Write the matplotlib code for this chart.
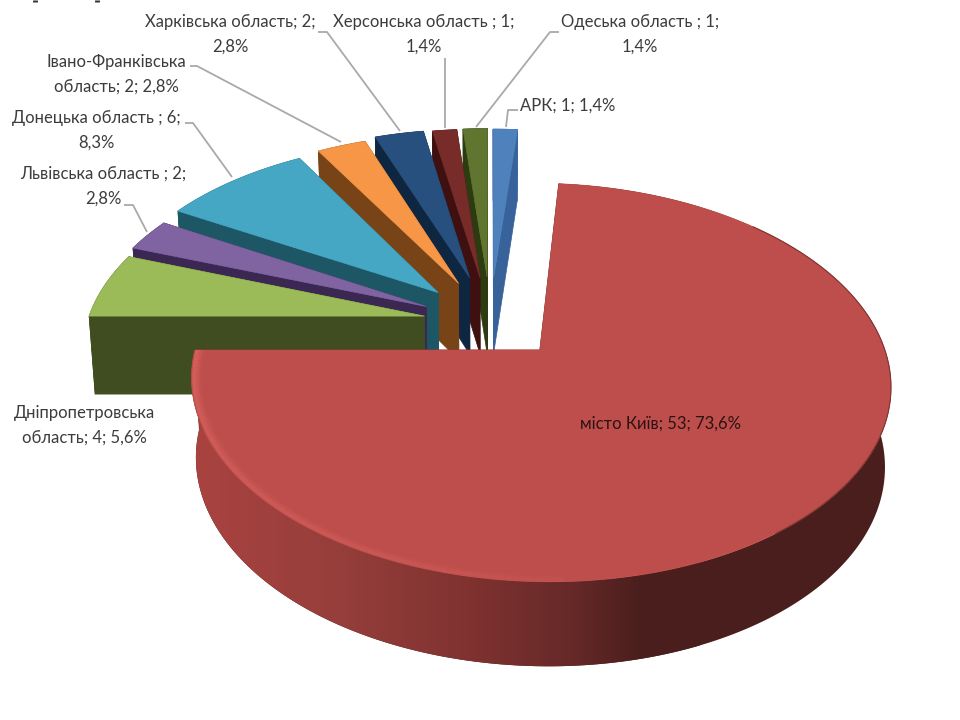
import matplotlib
matplotlib.use("Agg")
import matplotlib.pyplot as plt
import numpy as np
from matplotlib.collections import LineCollection
from matplotlib.colors import LinearSegmentedColormap, to_rgba
from matplotlib.patches import Polygon

# data, in the order of the source table
regions = ["АРК", "місто Київ", "Дніпропетровська область", "Львівська область",
           "Донецька область", "Івано-Франківська область", "Харківська область",
           "Херсонська область", "Одеська область"]
counts = [1, 53, 4, 2, 6, 2, 2, 1, 1]
label_texts = ["АРК; 1; 1,4%", "місто Київ; 53; 73,6%",
               "Дніпропетровська\nобласть; 4; 5,6%", "Львівська область ; 2;\n2,8%",
               "Донецька область ; 6;\n8,3%", "Івано-Франківська\nобласть; 2; 2,8%",
               "Харківська область; 2;\n2,8%", "Херсонська область ; 1;\n1,4%",
               "Одеська область ; 1;\n1,4%"]

top_colors = ["#4F81BD", "#BE4E4B", "#9BBB59", "#8064A2", "#45A7C4",
              "#F79646", "#27507F", "#772C2A", "#5F7530"]
wall_colors = ["#37629A", "#4A1E1C", "#3F4D20", "#3A2853", "#1D5664",
               "#784417", "#0E2640", "#3E1010", "#2C3B10"]

# where each slice's tip sits on the pie plane (explosion)
tips = [(0.011, 0.398), (0.1445, 0.0), (-0.196, 0.180), (-0.192, 0.233),
        (-0.158, 0.311), (-0.097, 0.365), (-0.063, 0.397), (-0.031, 0.398),
        (-0.009, 0.402)]

label_pos = [(520, 106, "left"), (661, 424, "center"), (84, 425, "center"),
             (103, 186, "center"), (96, 130, "center"), (116, 74, "center"),
             (230, 34, "center"), (424, 34, "center"), (640, 34, "center")]

leaders = [[(518, 110), (508, 110), (506, 127)],
           [(318, 32), (327, 32), (400, 131)],
           [(445, 58), (445, 128)],
           [(559, 32), (550, 32), (476, 127)],
           [(190, 66), (197, 66), (341, 142)],
           [(185, 123), (193, 123), (232, 177)],
           [(124, 205), (133, 205), (147, 232)]]

# perspective of the pie plane, in pixels
CX, CY = 490, 350
RX, RY, PERSP = 345, 194, 0.163
START_ANGLE = 90


def project(x, y):
    s = 1 / (1 + PERSP * y)
    return CX + RX * x * s, CY - RY * y * s


def wall_bottom(x, y):
    px, py = project(x, y)
    return CX + (px - CX) * 0.985, py + 79 - 5.5 * y


def to_xy(func, x, y):
    return np.column_stack(func(np.asarray(x, float), np.asarray(y, float)))


def slice_outline(tip, a0, a1):
    # a0 > a1, slices run clockwise
    ang = np.radians(np.linspace(a0, a1, max(int(a0 - a1) * 2, 6)))
    return tip[0] + np.cos(ang), tip[1] + np.sin(ang)


fig = plt.figure(figsize=(9.6, 7.2), dpi=100)
ax = fig.add_axes([0, 0, 1, 1])
ax.axis("off")

sweep = np.array(counts) / sum(counts) * 360
ends = START_ANGLE - np.cumsum(sweep)
starts = ends + sweep

side_cmap = LinearSegmentedColormap.from_list(
    "side", [(0, "#AA4340"), (0.3, "#953E3B"), (0.55, "#7F3230"),
             (0.75, "#662928"), (0.88, "#4B1F1D"), (1, "#4A1E1C")])

z = 1
# far slices first, left side ones over them, Kyiv at the front
for i in [8, 7, 6, 5, 4, 3, 2, 0, 1]:
    tip = tips[i]
    ox, oy = slice_outline(tip, starts[i], ends[i])

    # cut faces
    for a in (starts[i], ends[i]):
        ex = np.array([tip[0], tip[0] + np.cos(np.radians(a))])
        ey = np.array([tip[1], tip[1] + np.sin(np.radians(a))])
        face = np.vstack([to_xy(project, ex, ey), to_xy(wall_bottom, ex, ey)[::-1]])
        ax.add_patch(Polygon(face, closed=True, fc=wall_colors[i], ec=wall_colors[i],
                             lw=0.5, zorder=z))
    z += 1

    # outer rim
    rim = np.vstack([to_xy(project, ox, oy), to_xy(wall_bottom, ox, oy)[::-1]])
    if regions[i] == "місто Київ":
        # the gradient stops at x=700, rest of the rim stays flat
        ax.add_patch(Polygon(rim, closed=True, fc=wall_colors[i], ec="none", zorder=z - 0.5))
        rim_patch = Polygon(rim, closed=True, fc="none", ec="none", zorder=z)
        ax.add_patch(rim_patch)
        grad = np.linspace(0, 1, 256).reshape(1, -1)
        im = ax.imshow(grad, extent=(190, 700, 720, 0), cmap=side_cmap, aspect="auto", zorder=z)
        im.set_clip_path(rim_patch)
    else:
        ax.add_patch(Polygon(rim, closed=True, fc=wall_colors[i], ec=wall_colors[i],
                             lw=0.5, zorder=z))
    z += 1

    # top of the slice
    top = np.vstack([to_xy(project, [tip[0]], [tip[1]]), to_xy(project, ox, oy)])
    ax.add_patch(Polygon(top, closed=True, fc=top_colors[i], ec=top_colors[i], lw=0.5,
                         joinstyle="round", zorder=z))
    z += 1

    if regions[i] == "місто Київ":
        # soft light edge along the front left, fading inwards and to the right
        ang = np.radians(np.linspace(180, 272, 90))
        radii = np.linspace(0.995, 0.972, 7)
        alphas = [0.5, 0.42, 0.34, 0.26, 0.18, 0.1, 0.05]
        for r, alpha in zip(radii, alphas):
            pts = to_xy(project, tip[0] + r * np.cos(ang), tip[1] + r * np.sin(ang))
            segs = np.stack([pts[:-1], pts[1:]], axis=1)
            rgba = np.tile(to_rgba("#E8706A"), (len(segs), 1))
            rgba[:, 3] = alpha * np.linspace(1, 0.2, len(segs))
            ax.add_collection(LineCollection(segs, colors=rgba, linewidths=1.3, zorder=z))
        # thin dark line on the right edge
        ang = np.radians(np.linspace(-55, 45, 60))
        pts = to_xy(project, tip[0] + np.cos(ang), tip[1] + np.sin(ang))
        ax.plot(pts[:, 0], pts[:, 1], color="#7D3634", lw=0.8, zorder=z)
        z += 1

for points in leaders:
    xs, ys = zip(*points)
    ax.plot(xs, ys, color="#A9A9A9", lw=1.3, zorder=z, solid_capstyle="butt")
z += 1

fonts = ["Lato", "Liberation Sans"]
for i, text in enumerate(label_texts):
    x, y, ha = label_pos[i]
    color = "#2A1312" if regions[i] == "місто Київ" else "#3C3C3C"
    ax.text(x, y, text, ha=ha, va="center", ma="center", fontsize=12, family=fonts,
            linespacing=1.68, color=color, zorder=z)

# leftovers of a cropped heading at the top edge
for x in (35, 97):
    ax.plot([x, x], [0, 2], color="#333333", lw=3.5, solid_capstyle="butt", zorder=z)

ax.set_xlim(0, 960)
ax.set_ylim(720, 0)

fig.savefig("out.png", dpi=100, facecolor="white")
